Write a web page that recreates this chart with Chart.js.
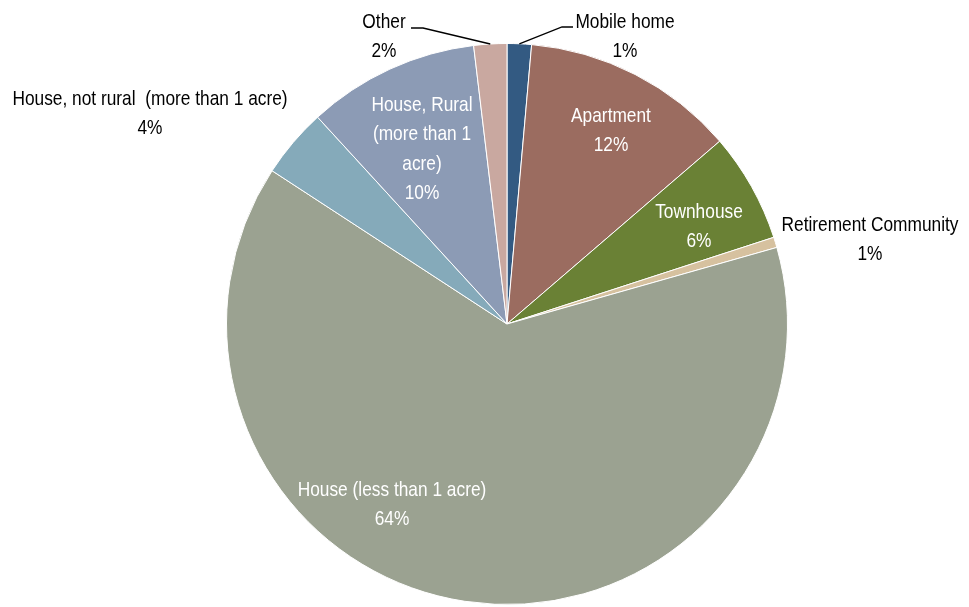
<!DOCTYPE html>
<html>
<head>
<meta charset="utf-8">
<script src="https://cdn.jsdelivr.net/npm/chart.js@4.4.1/dist/chart.umd.min.js"></script>
<style>
  html, body { margin: 0; padding: 0; background: #fff; }
  #wrap { width: 969px; height: 607px; }
</style>
</head>
<body>
<div id="wrap"><canvas id="chart-housing" width="969" height="607"></canvas></div>
<script>
// share of respondents by housing type, clockwise from 12 o'clock
const categories = [
    "Mobile home",
    "Apartment",
    "Townhouse",
    "Retirement Community",
    "House (less than 1 acre)",
    "House, not rural  (more than 1 acre)",
    "House, Rural (more than 1 acre)",
    "Other",
];
const shares = [1.4, 12.3, 6.3, 0.6, 63.6, 4.0, 9.9, 1.9];
const colors = ["#335a82", "#9b6c60", "#6a8135", "#d6c19f", "#9ba291", "#85aaba", "#8c9bb5", "#c9a8a0"];

// where each label sits (text lines, centre of first line, ink colour, leader line)
const labelLayout = [
    { lines: ["Mobile home", "1%"], x: 625, y: 22, color: "#000", leader: [[573, 27], [562, 27]] },
    { lines: ["Apartment", "12%"], x: 611, y: 116, color: "#fff" },
    { lines: ["Townhouse", "6%"], x: 699, y: 212, color: "#fff" },
    { lines: ["Retirement Community", "1%"], x: 870, y: 225, color: "#000" },
    { lines: ["House (less than 1 acre)", "64%"], x: 392, y: 490, color: "#fff" },
    { lines: ["House, not rural  (more than 1 acre)", "4%"], x: 150, y: 99, color: "#000" },
    { lines: ["House, Rural", "(more than 1", "acre)", "10%"], x: 422, y: 105, color: "#fff" },
    { lines: ["Other", "2%"], x: 384, y: 22, color: "#000", leader: [[411, 28], [423, 28]] },
];

const FONT = '21px "Liberation Sans", Arial, sans-serif';
const LINE_H = 29.5;

const sliceLabels = {
    id: "sliceLabels",
    afterDraw(chart) {
        const { ctx } = chart;
        const arcs = chart.getDatasetMeta(0).data;
        ctx.save();
        ctx.font = FONT;
        ctx.textAlign = "center";
        ctx.textBaseline = "middle";
        // squeeze the text so it reads like the condensed face of the original
        const sx = 177 / ctx.measureText("Retirement Community").width;
        labelLayout.forEach((lab, i) => {
            if (lab.leader) {
                const arc = arcs[i];
                const mid = (arc.startAngle + arc.endAngle) / 2;
                const ex = arc.x + Math.cos(mid) * arc.outerRadius;
                const ey = arc.y + Math.sin(mid) * arc.outerRadius;
                ctx.beginPath();
                ctx.moveTo(lab.leader[0][0], lab.leader[0][1]);
                ctx.lineTo(lab.leader[1][0], lab.leader[1][1]);
                ctx.lineTo(ex, ey);
                ctx.strokeStyle = "#000";
                ctx.lineWidth = 1.3;
                ctx.stroke();
            }
            ctx.fillStyle = lab.color;
            lab.lines.forEach((t, k) => {
                ctx.save();
                ctx.translate(lab.x, lab.y + k * LINE_H);
                ctx.scale(sx, 1);
                ctx.fillText(t, 0, 0);
                ctx.restore();
            });
        });
        ctx.restore();
    },
};

new Chart(document.getElementById("chart-housing").getContext("2d"), {
    type: "pie",
    data: {
        labels: categories,
        datasets: [{
            data: shares,
            backgroundColor: colors,
            borderColor: "#ffffff",
            borderWidth: 1,
        }],
    },
    options: {
        responsive: false,
        animation: false,
        layout: { padding: { top: 43, bottom: 2, left: 226, right: 181 } },
        plugins: { legend: { display: false }, tooltip: { enabled: false } },
    },
    plugins: [sliceLabels],
});
</script>
</body>
</html>
